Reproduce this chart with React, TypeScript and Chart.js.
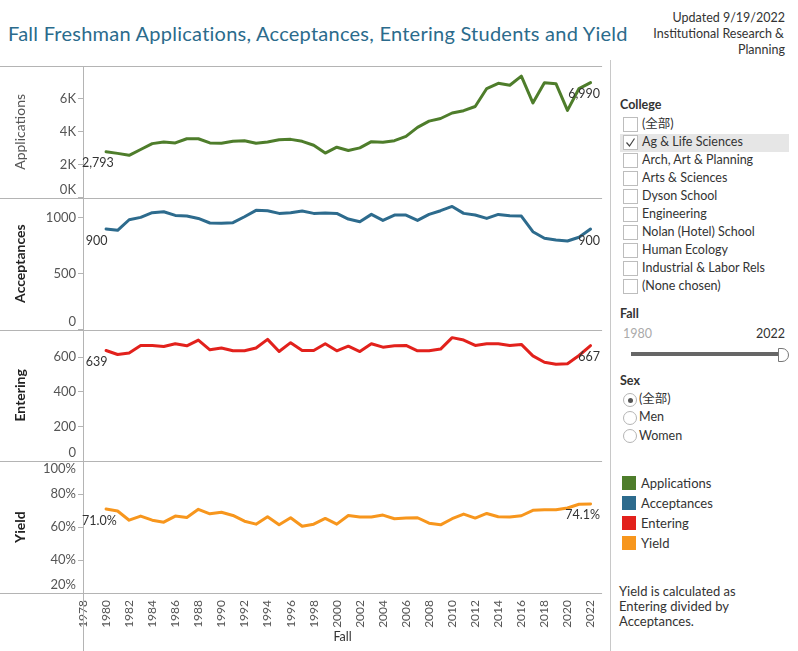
import React, { useEffect, useRef } from "react";
import { Chart, registerables } from "chart.js";
Chart.register(...registerables);

const FONT = "Lato, 'Noto Sans', 'Noto Sans CJK SC', sans-serif";

const years = [1980, 1981, 1982, 1983, 1984, 1985, 1986, 1987, 1988, 1989, 1990, 1991, 1992, 1993, 1994, 1995, 1996, 1997, 1998, 1999, 2000, 2001, 2002, 2003, 2004, 2005, 2006, 2007, 2008, 2009, 2010, 2011, 2012, 2013, 2014, 2015, 2016, 2017, 2018, 2019, 2020, 2021, 2022];
const applications = [2793, 2694, 2575, 2931, 3287, 3386, 3327, 3584, 3584, 3327, 3307, 3426, 3466, 3307, 3386, 3525, 3545, 3426, 3189, 2714, 3070, 2872, 3030, 3406, 3367, 3466, 3723, 4277, 4652, 4811, 5147, 5285, 5542, 6630, 6947, 6828, 7382, 5760, 6987, 6927, 5305, 6630, 6990];
const acceptances = [900, 888, 983, 1004, 1046, 1055, 1022, 1016, 995, 954, 951, 957, 1010, 1067, 1064, 1040, 1046, 1061, 1040, 1043, 1040, 989, 965, 1031, 977, 1025, 1025, 977, 1031, 1064, 1102, 1040, 1025, 995, 1031, 1019, 1016, 876, 817, 802, 793, 826, 900];
const entering = [639, 616, 625, 668, 668, 662, 678, 666, 699, 643, 653, 637, 637, 653, 703, 633, 684, 639, 639, 678, 637, 664, 633, 678, 658, 666, 668, 637, 637, 647, 713, 699, 668, 678, 678, 668, 674, 608, 571, 559, 563, 610, 667];
const yieldPct = [71.0, 69.8, 64.2, 66.7, 64.2, 63.0, 66.7, 65.9, 70.8, 68.1, 69.0, 67.1, 63.6, 61.8, 66.3, 61.4, 65.7, 60.5, 61.8, 65.3, 61.8, 67.1, 66.1, 66.1, 67.3, 65.1, 65.5, 65.7, 62.4, 61.4, 65.1, 67.9, 65.5, 68.3, 66.3, 66.1, 66.9, 70.2, 70.6, 70.6, 71.6, 73.9, 74.1];

const xTickYears = [1978, 1980, 1982, 1984, 1986, 1988, 1990, 1992, 1994, 1996, 1998, 2000, 2002, 2004, 2006, 2008, 2010, 2012, 2014, 2016, 2018, 2020, 2022];
const appTicks = [0, 2000, 4000, 6000];
const accTicks = [0, 500, 1000];
const entTicks = [0, 200, 400, 600];
const yldTicks = [20, 40, 60, 80, 100];

const seriesNames = ["Applications", "Acceptances", "Entering", "Yield"];
const seriesColors = ["#4e7d2b", "#2d6b8d", "#e2211c", "#f7961d"];

const colleges = ["(全部)", "Ag & Life Sciences", "Arch, Art & Planning", "Arts & Sciences", "Dyson School", "Engineering", "Nolan (Hotel) School", "Human Ecology", "Industrial & Labor Rels", "(None chosen)"];
const sexOptions = ["(全部)", "Men", "Women"];

const axisIds = ["yApp", "yAcc", "yEnt", "yYld"];
const tickFormat: Record<string, (v: number) => string> = {
  yApp: (v) => `${v / 1000}K`,
  yAcc: (v) => String(v),
  yEnt: (v) => String(v),
  yYld: (v) => `${v}%`,
};
const valueFormat = [
  (v: number) => v.toLocaleString("en-US"),
  (v: number) => String(v),
  (v: number) => String(v),
  (v: number) => `${v.toFixed(1)}%`,
];

const GRID = "#b4b4b4";

const overlay = {
  id: "overlay",
  beforeDatasetsDraw(chart: any) {
    const { ctx, chartArea, scales } = chart;
    ctx.save();
    ctx.strokeStyle = GRID;
    ctx.lineWidth = 1;
    const ys = [scales.yApp.top, scales.yApp.bottom, scales.yAcc.bottom, scales.yEnt.bottom, scales.yYld.bottom];
    ys.forEach((y: number) => {
      const yy = Math.round(y) + 0.5;
      ctx.beginPath();
      ctx.moveTo(0, yy);
      ctx.lineTo(chartArea.right, yy);
      ctx.stroke();
    });
    const x = Math.round(chartArea.left) + 0.5;
    ctx.beginPath();
    ctx.moveTo(x, chartArea.top);
    ctx.lineTo(x, chart.height);
    ctx.stroke();

    ctx.fillStyle = "#555";
    ctx.font = `13px ${FONT}`;
    ctx.textAlign = "right";
    ctx.textBaseline = "middle";
    axisIds.forEach((id) => {
      const s = scales[id];
      s.ticks.forEach((t: any) => {
        let y = s.getPixelForValue(t.value);
        y = Math.min(Math.max(y, s.top + 8), s.bottom - 8);
        ctx.fillText(tickFormat[id](t.value), s.right - 7, y);
      });
    });
    ctx.restore();
  },
  afterDatasetsDraw(chart: any) {
    const { ctx, chartArea } = chart;
    ctx.save();
    ctx.fillStyle = "#333";
    ctx.font = `12.5px ${FONT}`;
    ctx.textAlign = "left";
    ctx.textBaseline = "middle";
    chart.data.datasets.forEach((ds: any, i: number) => {
      const meta = chart.getDatasetMeta(i);
      const pts = meta.data;
      const first = pts[0];
      const last = pts[pts.length - 1];
      const fv = ds.data[0].y;
      const lv = ds.data[ds.data.length - 1].y;
      const ft = valueFormat[i](fv);
      const lt = valueFormat[i](lv);
      const fw = ctx.measureText(ft).width;
      const lw = ctx.measureText(lt).width;
      let fx = first.x - 9.5 - fw / 2;
      fx = Math.max(fx, chartArea.left - 1);
      ctx.fillText(ft, fx, first.y + 11.5);
      let lx = last.x + 3 - lw / 2;
      lx = Math.min(lx, chartArea.right - 2 - lw);
      ctx.fillText(lt, lx, last.y + 11.5);
    });
    ctx.restore();
  },
};

function yAxis(id: string, weight: number, min: number, max: number, ticks: number[], title: string, titleColor: string, titleWeight: any) {
  return {
    type: "linear",
    position: "left",
    stack: "rows",
    stackWeight: 1,
    weight,
    min,
    max,
    afterBuildTicks: (s: any) => {
      s.ticks = ticks.map((v) => ({ value: v }));
    },
    afterFit: (s: any) => {
      s.width = 83;
    },
    ticks: { display: false },
    grid: { drawOnChartArea: false, drawTicks: true, tickLength: 5, color: GRID },
    border: { display: true, color: GRID },
    title: {
      display: true,
      text: title,
      color: titleColor,
      font: { size: 14, family: FONT, weight: titleWeight },
      padding: { top: 12, bottom: 0 },
    },
  };
}

function ChartView() {
  const ref = useRef<HTMLCanvasElement>(null);
  useEffect(() => {
    if (!ref.current) return;
    const mk = (vals: number[]) => vals.map((v, i) => ({ x: years[i], y: v }));
    const dataSets = [applications, acceptances, entering, yieldPct];
    const chart = new Chart(ref.current, {
      type: "line",
      data: {
        datasets: dataSets.map((vals, i) => ({
          label: seriesNames[i],
          data: mk(vals),
          yAxisID: axisIds[i],
          borderColor: seriesColors[i],
          backgroundColor: seriesColors[i],
          borderWidth: 3,
          pointRadius: 0,
          tension: 0,
          fill: false,
          borderJoinStyle: "round",
          borderCapStyle: "round",
        })),
      },
      options: {
        responsive: false,
        animation: false,
        layout: { padding: { top: 66, right: 2, bottom: 0, left: 0 } },
        plugins: { legend: { display: false }, tooltip: { enabled: false } },
        font: { family: FONT },
        scales: {
          x: {
            type: "linear",
            min: 1978,
            max: 2023,
            afterBuildTicks: (s: any) => {
              s.ticks = xTickYears.map((v) => ({ value: v }));
            },
            afterFit: (s: any) => {
              s.height = 58;
            },
            ticks: {
              minRotation: 90,
              maxRotation: 90,
              autoSkip: false,
              padding: 7,
              color: "#555",
              font: { size: 12, family: FONT },
              callback: (v: any) => String(v),
            },
            grid: { display: false, drawTicks: false },
            border: { display: false },
            title: {
              display: true,
              text: "Fall",
              color: "#333",
              font: { size: 12.5, family: FONT },
              padding: { top: 0, bottom: 7 },
            },
          },
          yApp: yAxis("yApp", 4, 0, 8000, appTicks, "Applications", "#555", "normal"),
          yAcc: yAxis("yAcc", 3, 0, 1180, accTicks, "Acceptances", "#222", "bold"),
          yEnt: yAxis("yEnt", 2, 0, 760, entTicks, "Entering", "#222", "bold"),
          yYld: yAxis("yYld", 1, 20, 100, yldTicks, "Yield", "#222", "bold"),
        } as any,
      },
      plugins: [overlay],
    } as any);
    return () => chart.destroy();
  }, []);
  return <canvas ref={ref} width={612} height={651} style={{ position: "absolute", left: 0, top: 0, width: 612, height: 651 }} />;
}

function Txt(props: { x: number; cy: number; size: number; children: any; color?: string; bold?: boolean; right?: boolean; spacing?: number }) {
  const h = Math.round(props.size * 1.4);
  const style: any = {
    position: "absolute",
    top: props.cy - h / 2,
    lineHeight: `${h}px`,
    height: h,
    fontSize: props.size,
    color: props.color || "#333",
    fontWeight: props.bold ? "bold" : "normal",
    whiteSpace: "nowrap",
    letterSpacing: props.spacing ? `${props.spacing}px` : "normal",
  };
  if (props.right) {
    style.right = 798 - props.x;
    style.textAlign = "right";
  } else {
    style.left = props.x;
  }
  return <div style={style}>{props.children}</div>;
}

export default function App() {
  return (
    <div style={{ position: "absolute", left: 0, top: 0, width: 798, height: 651, overflow: "hidden", background: "#fff", fontFamily: FONT }}>
      <Txt x={8} cy={33} size={20} color="#2b6b8c" spacing={0.25}>Fall Freshman Applications, Acceptances, Entering Students and Yield</Txt>
      <Txt x={785} cy={18} size={12.5} right>Updated 9/19/2022</Txt>
      <Txt x={784} cy={34} size={12.5} right>Institutional Research &amp;</Txt>
      <Txt x={785} cy={50} size={12.5} right>Planning</Txt>

      <ChartView />

      <div style={{ position: "absolute", left: 610, top: 60, width: 1, height: 591, background: "#c8c8c8" }} />

      <Txt x={620} cy={105} size={12.5} bold>College</Txt>
      <div style={{ position: "absolute", left: 620, top: 134, width: 169, height: 18, background: "#e6e6e6" }} />
      {colleges.map((c, i) => {
        const cy = 123.5 + i * 18.05;
        return (
          <React.Fragment key={c}>
            <div style={{ position: "absolute", left: 623, top: Math.round(cy - 7), width: 13, height: 13, border: "1px solid #bdbdbd", background: "#fff" }}>
              {i === 1 ? (
                <svg width={13} height={13} style={{ position: "absolute", left: 0, top: 0 }}>
                  <polyline points="2.5,6.5 5.5,10 10.5,2.5" fill="none" stroke="#444" strokeWidth={1.2} />
                </svg>
              ) : null}
            </div>
            <Txt x={642} cy={cy} size={12.5}>{c}</Txt>
          </React.Fragment>
        );
      })}

      <Txt x={620} cy={314} size={12.5} bold>Fall</Txt>
      <Txt x={623} cy={334} size={12.5} color="#aaa">1980</Txt>
      <Txt x={785} cy={334} size={12.5} right>2022</Txt>
      <div style={{ position: "absolute", left: 631, top: 352, width: 149, height: 4, background: "#666" }} />
      <div style={{ position: "absolute", left: 778, top: 348, width: 9, height: 12, background: "#fff", border: "1px solid #777", borderRadius: "0 7px 7px 0" }} />

      <Txt x={620} cy={381} size={12.5} bold>Sex</Txt>
      {sexOptions.map((s, i) => {
        const cy = 399 + i * 18.3;
        return (
          <React.Fragment key={s}>
            <div style={{ position: "absolute", left: 623, top: Math.round(cy - 6.5), width: 12, height: 12, borderRadius: "50%", border: "1px solid #b5b5b5", background: "#fff" }}>
              {i === 0 ? <div style={{ position: "absolute", left: 3.5, top: 3.5, width: 5, height: 5, borderRadius: "50%", background: "#555" }} /> : null}
            </div>
            <Txt x={639} cy={cy} size={12.5}>{s}</Txt>
          </React.Fragment>
        );
      })}

      {seriesNames.map((n, i) => {
        const cy = 482.5 + i * 20;
        return (
          <React.Fragment key={n}>
            <div style={{ position: "absolute", left: 622, top: Math.round(cy - 7), width: 14, height: 14, background: seriesColors[i] }} />
            <Txt x={641} cy={cy} size={13}>{n}</Txt>
          </React.Fragment>
        );
      })}

      <Txt x={619} cy={590.5} size={13}>Yield is calculated as</Txt>
      <Txt x={619} cy={605.5} size={13}>Entering divided by</Txt>
      <Txt x={619} cy={620.5} size={13}>Acceptances.</Txt>
    </div>
  );
}
